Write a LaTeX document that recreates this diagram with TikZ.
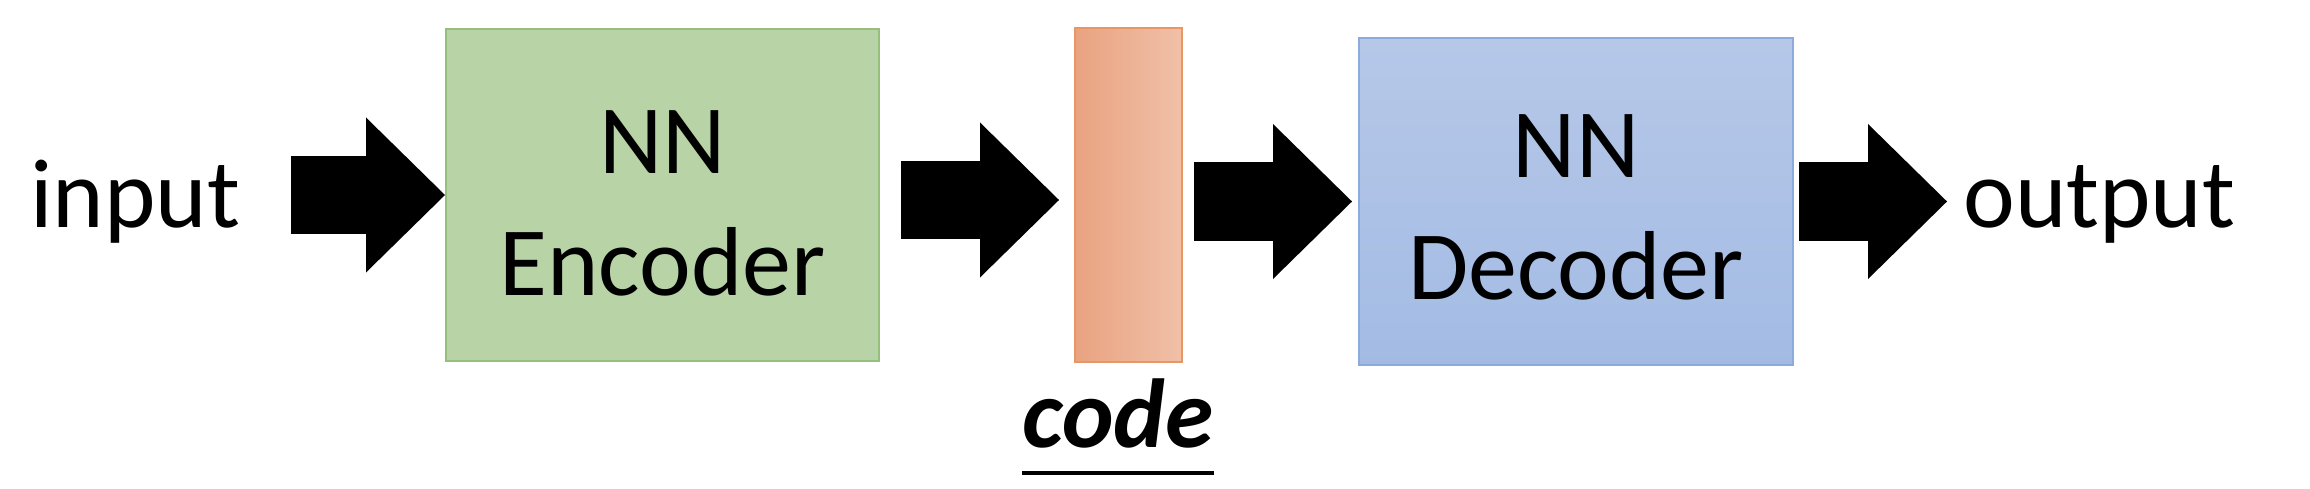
\documentclass[tikz,border=0pt]{standalone}
\usepackage{fontspec}
\setmainfont{Carlito}
\usetikzlibrary{arrows.meta}

\definecolor{encfill}{RGB}{184,212,166}
\definecolor{encline}{RGB}{150,190,125}
\definecolor{codeleft}{RGB}{233,163,128}
\definecolor{coderight}{RGB}{240,192,168}
\definecolor{codeline}{RGB}{232,150,100}
\definecolor{dectop}{RGB}{182,200,232}
\definecolor{decbottom}{RGB}{163,187,228}
\definecolor{decline}{RGB}{140,170,220}

\begin{document}
\begin{tikzpicture}[x=0.5pt,y=0.5pt,
  box/.style={draw, line width=1pt, inner sep=0pt},
  word/.style={inner sep=0pt, align=center, font=\fontsize{49pt}{61pt}\selectfont},
  fat/.style={line width=39pt, -{Triangle[length=39.5pt, width=77.5pt, line width=0pt]}}]

% Canvas
\useasboundingbox (0,0) rectangle (2310,488);
\fill[white] (0,0) rectangle (2310,488);

% Define block centres
\coordinate (E) at (662.5,293);
\coordinate (C) at (1128.5,293);
\coordinate (D) at (1576,286.5);

% Blocks
\node[box, fill=encfill, draw=encline, minimum width=216.5pt, minimum height=166pt] (enc) at (E) {};
\node[box, draw=codeline, left color=codeleft, right color=coderight, minimum width=53.5pt, minimum height=167pt] (code) at (C) {};
\node[box, top color=dectop, bottom color=decbottom, draw=decline, minimum width=217pt, minimum height=163.5pt] (dec) at (D) {};

% Block texts
\node[word] (enctext) at ([yshift=-4pt]enc.center) {NN\\Encoder};
\node[word] (dectext) at ([yshift=-3pt]dec.center) {NN\\Decoder};

% Input and output words
\node[word, anchor=base west] (in) at (30,261) {input};
\node[word, anchor=base west] (out) at (1963,261) {output};

% Code label, underlined
\node[word, anchor=base, font=\fontsize{49pt}{61pt}\selectfont\bfseries\itshape] (lbl) at (1118,41) {code};
\draw[line width=2pt] ([yshift=-13pt]lbl.base west) -- ([yshift=-13pt]lbl.base east);

% Block arrows
\draw[fat, shorten <=25pt] (in.east |- enc.west) -- (enc.west);
\draw[fat, shorten <=10.5pt, shorten >=7.5pt] ([yshift=-2.5pt]enc.east) -- ([yshift=-2.5pt]code.west);
\draw[fat, shorten <=5.5pt, shorten >=3pt] (code.east |- dec.west) -- (dec.west);
\draw[fat, shorten <=2.5pt, shorten >=8pt] (dec.east) -- (out.west |- dec.east);

\end{tikzpicture}
\end{document}
